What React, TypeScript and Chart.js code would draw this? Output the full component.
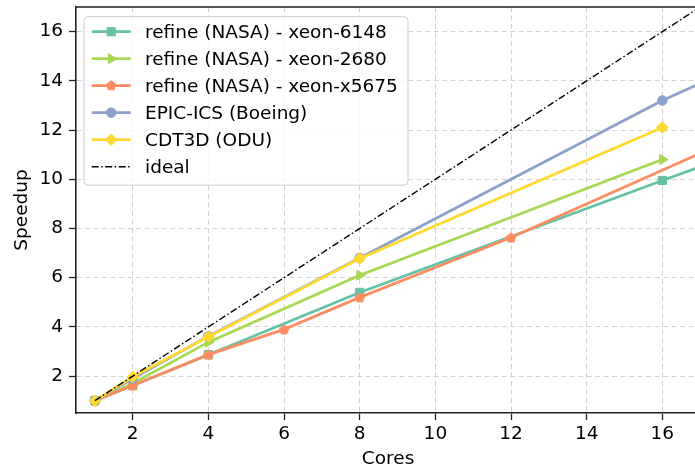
import React, { useEffect, useRef } from 'react';
import { Chart, registerables } from 'chart.js';

Chart.register(...registerables);

// Tick values on both axes
const xTicks = [2, 4, 6, 8, 10, 12, 14, 16];
const yTicks = [2, 4, 6, 8, 10, 12, 14, 16];

// Series: core counts and measured speedups
const seriesLabels = [
  'refine (NASA) - xeon-6148',
  'refine (NASA) - xeon-2680',
  'refine (NASA) - xeon-x5675',
  'EPIC-ICS (Boeing)',
  'CDT3D (ODU)',
  'ideal',
];

const cores6148 = [1, 2, 4, 8, 16, 32];
const speedup6148 = [1, 1.62, 2.87, 5.4, 9.95, 18.8];

const cores2680 = [1, 2, 4, 8, 16];
const speedup2680 = [1, 1.7, 3.38, 6.1, 10.8];

const coresX5675 = [1, 2, 4, 6, 8, 12, 24];
const speedupX5675 = [1, 1.62, 2.87, 3.9, 5.2, 7.63, 15.85];

const coresEpic = [1, 2, 4, 8, 16, 32];
const speedupEpic = [1, 1.9, 3.62, 6.8, 13.2, 24.4];

const coresCdt3d = [1, 2, 4, 8, 16];
const speedupCdt3d = [1, 1.97, 3.6, 6.78, 12.1];

const coresIdeal = [1, 32];
const speedupIdeal = [1, 32];

const FONT = "'DejaVu Sans', sans-serif";
const FONT_SIZE = 18.5;
const INK = '#222222';

type MarkerKind = 'square' | 'triRight' | 'pentagon' | 'circle' | 'diamond' | 'none';

function markerPath(ctx: CanvasRenderingContext2D, kind: MarkerKind, x: number, y: number, r: number) {
  ctx.beginPath();
  if (kind === 'square') {
    const h = r * Math.SQRT1_2;
    ctx.rect(x - h, y - h, 2 * h, 2 * h);
  } else if (kind === 'triRight') {
    for (let i = 0; i < 3; i++) {
      const a = (i * 2 * Math.PI) / 3;
      const px = x + Math.cos(a) * r;
      const py = y + Math.sin(a) * r;
      if (i === 0) ctx.moveTo(px, py);
      else ctx.lineTo(px, py);
    }
    ctx.closePath();
  } else if (kind === 'pentagon') {
    for (let i = 0; i < 5; i++) {
      const a = -Math.PI / 2 + (i * 2 * Math.PI) / 5;
      const px = x + Math.cos(a) * r;
      const py = y + Math.sin(a) * r;
      if (i === 0) ctx.moveTo(px, py);
      else ctx.lineTo(px, py);
    }
    ctx.closePath();
  } else if (kind === 'circle') {
    ctx.arc(x, y, r, 0, Math.PI * 2);
  } else if (kind === 'diamond') {
    ctx.moveTo(x, y - r);
    ctx.lineTo(x + r, y);
    ctx.lineTo(x, y + r);
    ctx.lineTo(x - r, y);
    ctx.closePath();
  }
}

function drawMarker(ctx: CanvasRenderingContext2D, kind: MarkerKind, x: number, y: number, r: number, color: string) {
  if (kind === 'none') return;
  markerPath(ctx, kind, x, y, r);
  ctx.fillStyle = color;
  ctx.fill();
  ctx.lineWidth = 1;
  ctx.strokeStyle = color;
  ctx.stroke();
}

// Chart.js has no pentagon point style, so render one into a small canvas
function pentagonImage(color: string, r: number): HTMLCanvasElement {
  const size = Math.ceil(r * 2 + 4);
  const c = document.createElement('canvas');
  c.width = size;
  c.height = size;
  const ctx = c.getContext('2d')!;
  drawMarker(ctx, 'pentagon', size / 2, size / 2 + 0.5, r, color);
  return c;
}

type Spec = {
  label: string;
  xs: number[];
  ys: number[];
  color: string;
  marker: MarkerKind;
  radius: number;
  width: number;
  dash?: number[];
};

export default function App() {
  const ref = useRef<HTMLCanvasElement>(null);

  useEffect(() => {
    const canvas = ref.current;
    if (!canvas) return;

    const specs: Spec[] = [
      { label: seriesLabels[0], xs: cores6148, ys: speedup6148, color: '#66c2a5', marker: 'square', radius: 5.8, width: 2.8 },
      { label: seriesLabels[1], xs: cores2680, ys: speedup2680, color: '#a6d854', marker: 'triRight', radius: 5.8, width: 2.8 },
      { label: seriesLabels[2], xs: coresX5675, ys: speedupX5675, color: '#fc8d62', marker: 'pentagon', radius: 5, width: 2.8 },
      { label: seriesLabels[3], xs: coresEpic, ys: speedupEpic, color: '#8da0cb', marker: 'circle', radius: 4.8, width: 2.8 },
      { label: seriesLabels[4], xs: coresCdt3d, ys: speedupCdt3d, color: '#ffd92f', marker: 'diamond', radius: 5.8, width: 2.8 },
      { label: seriesLabels[5], xs: coresIdeal, ys: speedupIdeal, color: '#000000', marker: 'none', radius: 0, width: 1.4, dash: [7, 2.5, 1.5, 2.5] },
    ];

    const pointStyleFor = (s: Spec): any => {
      switch (s.marker) {
        case 'square':
          return 'rect';
        case 'triRight':
          return 'triangle';
        case 'pentagon':
          return pentagonImage(s.color, s.radius);
        case 'circle':
          return 'circle';
        case 'diamond':
          return 'rectRot';
        default:
          return false;
      }
    };

    const datasets = specs.map((s, i) => ({
      label: s.label,
      data: s.xs.map((x, j) => ({ x, y: s.ys[j] })),
      borderColor: s.color,
      backgroundColor: s.color,
      borderWidth: s.width,
      borderDash: s.dash ?? [],
      pointStyle: pointStyleFor(s),
      pointRotation: s.marker === 'triRight' ? 90 : 0,
      pointRadius: s.radius,
      pointBorderWidth: 1,
      pointBorderColor: s.color,
      pointBackgroundColor: s.color,
      tension: 0,
      // later series are drawn on top
      order: specs.length - i,
    }));

    // Frame around the plot area (top and right sides)
    const framePlugin = {
      id: 'frame',
      afterDatasetsDraw(chart: any) {
        const { ctx, chartArea } = chart;
        ctx.save();
        ctx.strokeStyle = INK;
        ctx.lineWidth = 1.6;
        ctx.beginPath();
        ctx.moveTo(chartArea.left, chartArea.top);
        ctx.lineTo(chartArea.right, chartArea.top);
        ctx.lineTo(chartArea.right, chartArea.bottom);
        ctx.stroke();
        ctx.restore();
      },
    };

    // Legend box with line samples and markers
    const legendPlugin = {
      id: 'lineLegend',
      afterDraw(chart: any) {
        const { ctx, chartArea } = chart;
        const boxX = chartArea.left + 8;
        const boxY = chartArea.top + 9.7;
        const boxW = 324;
        const boxH = 168.5;
        const rowH = 27;
        const firstRow = boxY + 15;
        ctx.save();
        ctx.beginPath();
        const rr = 4;
        ctx.moveTo(boxX + rr, boxY);
        ctx.arcTo(boxX + boxW, boxY, boxX + boxW, boxY + boxH, rr);
        ctx.arcTo(boxX + boxW, boxY + boxH, boxX, boxY + boxH, rr);
        ctx.arcTo(boxX, boxY + boxH, boxX, boxY, rr);
        ctx.arcTo(boxX, boxY, boxX + boxW, boxY, rr);
        ctx.closePath();
        ctx.fillStyle = 'rgba(255,255,255,0.8)';
        ctx.fill();
        ctx.strokeStyle = '#cccccc';
        ctx.lineWidth = 1;
        ctx.stroke();

        specs.forEach((s, i) => {
          const y = firstRow + i * rowH;
          const x0 = boxX + 7.7;
          const x1 = boxX + 46.7;
          ctx.save();
          ctx.strokeStyle = s.color;
          ctx.lineWidth = s.width;
          ctx.setLineDash(s.dash ?? []);
          ctx.beginPath();
          ctx.moveTo(x0, y);
          ctx.lineTo(x1, y);
          ctx.stroke();
          ctx.restore();
          drawMarker(ctx, s.marker, (x0 + x1) / 2, y, s.radius, s.color);
          ctx.fillStyle = '#000';
          ctx.font = `${FONT_SIZE}px ${FONT}`;
          ctx.textBaseline = 'middle';
          ctx.textAlign = 'left';
          ctx.fillText(s.label, boxX + 61, y + 1);
        });
        ctx.restore();
      },
    };

    const tickFont = { family: FONT, size: FONT_SIZE };

    const chart = new Chart(canvas, {
      type: 'line',
      data: { datasets: datasets as any },
      plugins: [framePlugin, legendPlugin],
      options: {
        responsive: false,
        animation: false,
        layout: { padding: { top: 7, right: 1, left: 0, bottom: 0 } },
        plugins: {
          legend: { display: false },
          tooltip: { enabled: false },
        },
        scales: {
          x: {
            type: 'linear',
            min: 0.5,
            max: 17,
            afterBuildTicks: (scale: any) => {
              scale.ticks = xTicks.map((v) => ({ value: v }));
            },
            afterFit: (scale: any) => {
              scale.height = 55;
              scale.paddingLeft = 0;
              scale.paddingRight = 0;
              scale.paddingTop = 0;
              scale.paddingBottom = 0;
            },
            ticks: {
              autoSkip: false,
              maxRotation: 0,
              color: '#000',
              font: tickFont,
              padding: 3,
            },
            grid: {
              color: '#d2d2d2',
              lineWidth: 1,
              drawTicks: true,
              tickLength: 7,
              tickColor: INK,
              tickWidth: 1.3,
            },
            border: { display: true, color: INK, width: 1.6, dash: [5, 3.5] },
            title: {
              display: true,
              text: 'Cores',
              color: '#000',
              font: { family: FONT, size: FONT_SIZE },
              padding: { top: 0, bottom: -2 },
            },
          },
          y: {
            type: 'linear',
            min: 0.5,
            max: 17,
            afterBuildTicks: (scale: any) => {
              scale.ticks = yTicks.map((v) => ({ value: v }));
            },
            afterFit: (scale: any) => {
              scale.width = 76;
              scale.paddingLeft = 0;
              scale.paddingRight = 0;
              scale.paddingTop = 0;
              scale.paddingBottom = 0;
            },
            ticks: {
              autoSkip: false,
              color: '#000',
              font: tickFont,
              padding: 6,
            },
            grid: {
              color: '#d2d2d2',
              lineWidth: 1,
              drawTicks: true,
              tickLength: 7,
              tickColor: INK,
              tickWidth: 1.3,
            },
            border: { display: true, color: INK, width: 1.6, dash: [5, 3.5] },
            title: {
              display: true,
              text: 'Speedup',
              color: '#000',
              font: { family: FONT, size: FONT_SIZE },
              padding: { top: 11, bottom: 0 },
            },
          },
        },
      } as any,
    });

    return () => chart.destroy();
  }, []);

  return (
    <div
      style={{
        position: 'fixed',
        left: 0,
        top: 0,
        width: 695,
        height: 468,
        overflow: 'hidden',
        background: '#fff',
      }}
    >
      <canvas ref={ref} width={707} height={468} style={{ width: 707, height: 468, display: 'block' }} />
    </div>
  );
}
